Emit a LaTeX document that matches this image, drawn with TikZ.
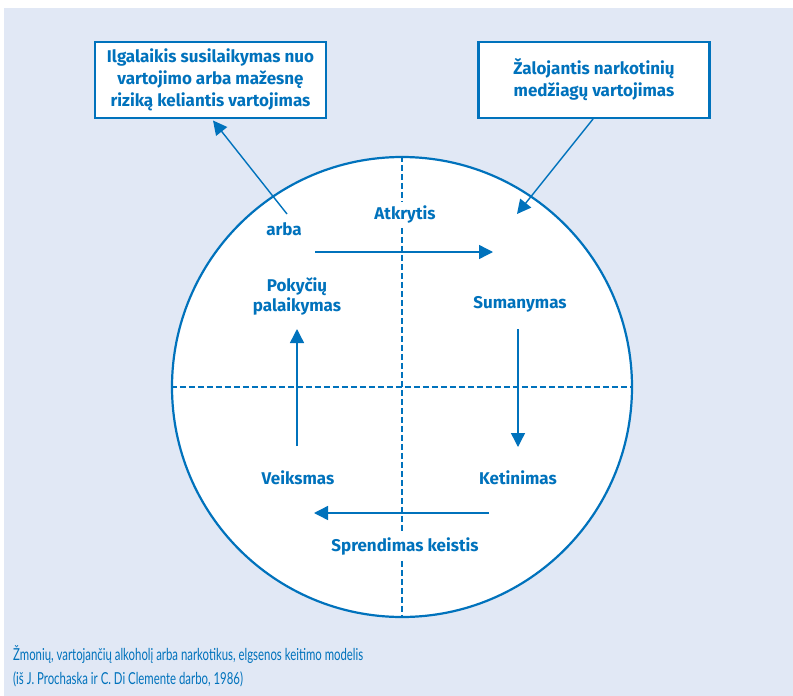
\documentclass[tikz,border=0pt]{standalone}
\usepackage{fontspec}
\setmainfont{Fira Sans}
\newfontfamily\capfont[FakeStretch=0.69]{Lato}
\usetikzlibrary{arrows.meta}
\definecolor{cblue}{RGB}{0,114,188}
\definecolor{cbg}{RGB}{225,232,245}
\tikzset{
  lbl/.style={font=\fontsize{17}{20}\selectfont\bfseries, text=cblue, align=center, inner sep=0pt},
  onl/.style={fill=white, inner sep=3pt},
  boxn/.style={draw=cblue, line width=2.2pt, fill=white, font=\fontsize{17}{22}\selectfont\bfseries, text=cblue, align=center, minimum width=231pt, minimum height=76pt, inner sep=0pt},
  conn/.style={draw=cblue, line width=1.4pt},
  arr/.style={conn, -{Triangle[length=14pt,width=14pt]}},
  dashline/.style={draw=cblue, line width=1.2pt, dash pattern=on 6pt off 3pt}
}
\begin{document}
\begin{tikzpicture}[x=1pt,y=-1pt]
\useasboundingbox (0,0) rectangle (793,696);
\fill[cbg] (4,8) rectangle (793,696);
% circle
\node[circle, draw=cblue, line width=2.2pt, fill=white, minimum size=460pt, inner sep=0pt] (c) at (402,387) {};
\draw[dashline] (c.north) -- (c.south);
\draw[dashline] (c.west) -- (c.east);
% boxes
\node[boxn] (b1) at (210.5,80) {Ilgalaikis susilaikymas nuo\\vartojimo arba mažesnę\\riziką keliantis vartojimas};
\node[boxn] (b2) at (594,80) {Žalojantis narkotinių\\medžiagų vartojimas};
% labels
\node[lbl,onl] (atk) at (405,214) {Atkrytis};
\node[lbl] (arba) at (284,229) {arba};
\node[lbl] (pok) at (297,296) {Pokyčių\\palaikymas};
\node[lbl] (sum) at (520,304) {Sumanymas};
\node[lbl] (ket) at (518,478) {Ketinimas};
\node[lbl] (vei) at (298,478) {Veiksmas};
\node[lbl,onl] (spr) at (405,546) {Sprendimas keistis};
% arrow endpoints
\coordinate (a1s) at (287,214);
\coordinate (a1e) at (213,120.5);
\coordinate (a2s) at (593,119);
\coordinate (a2e) at (517,214);
\coordinate (h1s) at (315,252);
\coordinate (h1e) at (493,252);
\coordinate (v1s) at (518,329);
\coordinate (v1e) at (518,447);
\coordinate (h2s) at (489,513);
\coordinate (h2e) at (314,513);
\coordinate (v2s) at (297,446);
\coordinate (v2e) at (297,329);
\draw[arr] (a1s) -- (a1e);
\draw[arr] (a2s) -- (a2e);
\draw[arr] (h1s) -- (h1e);
\draw[arr] (v1s) -- (v1e);
\draw[arr] (h2s) -- (h2e);
\draw[arr] (v2s) -- (v2e);
% caption
\node[anchor=west, inner sep=0pt, text=cblue, font=\capfont\fontsize{16.5}{24}\selectfont, align=left] (cap) at (13,666) {Žmonių, vartojančių alkoholį arba narkotikus, elgsenos keitimo modelis\\(iš J. Prochaska ir C. Di Clemente darbo, 1986)};
\end{tikzpicture}
\end{document}
